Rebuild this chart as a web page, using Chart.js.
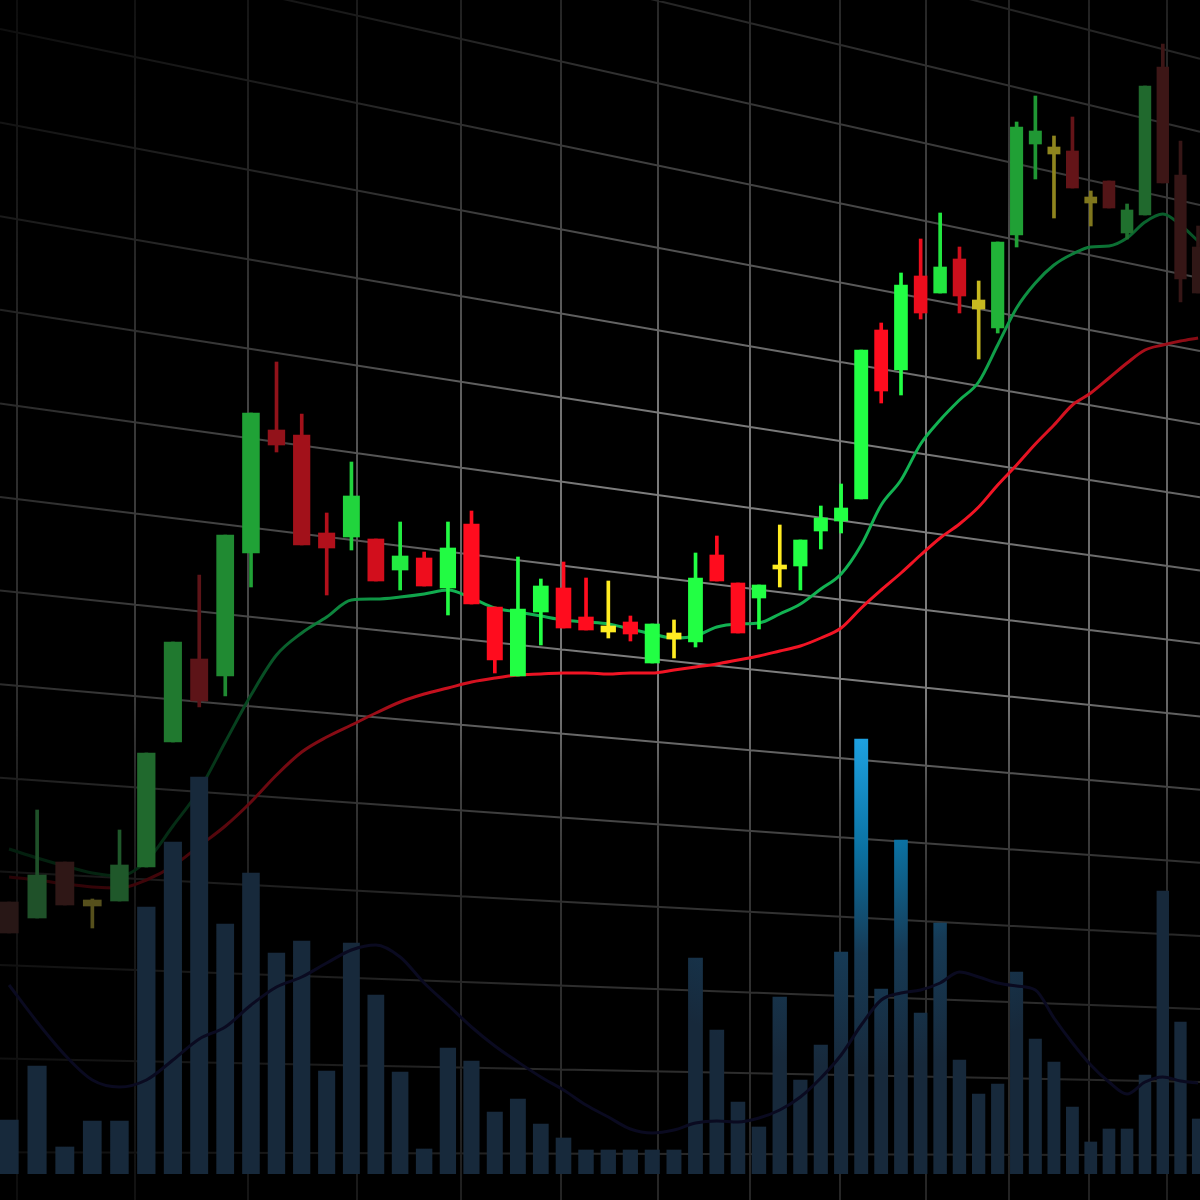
<!DOCTYPE html>
<html>
<head>
<meta charset="utf-8">
<style>
  html, body { margin: 0; padding: 0; background: #000; }
  #chart { display: block; }
</style>
</head>
<body>
<canvas id="chart" width="1200" height="1200"></canvas>
<script src="https://cdn.jsdelivr.net/npm/chart.js@4.4.0/dist/chart.umd.min.js"></script>
<script>
// session numbers, placed on a log axis so spacing shrinks to the right (perspective look)
const sessions = [88, 89, 90, 91, 92, 93, 94, 95, 96, 97, 98, 99, 100, 101, 102, 103, 104, 105, 106, 107,
  108, 109, 110, 111, 112, 113, 114, 115, 116, 117, 118, 119, 120, 121, 122, 123, 124, 125, 126, 127,
  128, 129, 130, 131, 132, 133, 134, 135, 136, 137, 138, 139, 140, 141, 142];

const opens = [27.2, 25.6, 31.2, 26.8, 27.3, 30.7, 43.2, 51.5, 49.8, 62.1, 74.4, 73.9, 64.1, 63.7, 63.5, 60.4, 61.6, 58.6, 65.0, 56.7,
  49.8, 56.2, 58.6, 55.7, 54.2, 55.2, 51.1, 53.5, 53.2, 61.9, 59.1, 57.6, 60.5, 60.8, 64.3, 65.3, 67.5, 84.4, 80.4, 89.8,
  88.1, 91.5, 86.5, 84.6, 93.9, 103.0, 102.0, 102.3, 97.1, 99.3, 94.1, 95.9, 110.7, 99.9, 92.7];
const highs = [27.2, 36.4, 31.2, 27.5, 34.4, 42.1, 53.2, 59.9, 63.9, 76.1, 81.2, 76.0, 66.1, 71.2, 63.5, 65.2, 62.2, 65.2, 66.3, 56.7,
  61.7, 59.5, 61.2, 59.6, 59.3, 55.8, 55.0, 55.4, 62.1, 63.8, 59.1, 58.9, 64.9, 63.4, 66.8, 69.0, 82.4, 85.1, 90.1, 93.5,
  96.1, 92.7, 89.3, 93.2, 105.2, 107.8, 103.8, 105.7, 98.3, 99.3, 97.0, 108.8, 113.0, 103.3, 94.8];
const lows = [24.1, 25.6, 26.9, 24.6, 27.3, 30.7, 43.2, 46.7, 47.8, 58.7, 72.2, 62.9, 57.9, 62.4, 59.3, 58.4, 58.8, 55.9, 57.0, 50.1,
  49.8, 52.9, 54.6, 54.4, 53.6, 53.3, 51.1, 51.6, 52.7, 59.3, 54.1, 54.5, 58.7, 58.4, 62.5, 64.1, 67.5, 77.1, 77.9, 85.5,
  88.1, 86.1, 81.5, 84.1, 92.7, 99.5, 95.6, 98.6, 94.8, 96.6, 93.5, 95.9, 99.1, 87.2, 88.1];
const closes = [24.1, 29.9, 26.9, 27.4, 30.9, 42.1, 53.2, 47.3, 63.9, 76.1, 72.9, 62.9, 62.6, 67.8, 59.3, 61.8, 58.8, 62.6, 57.0, 51.4,
  56.5, 58.8, 54.6, 54.4, 54.8, 54.0, 55.0, 54.1, 59.6, 59.3, 54.1, 58.9, 60.9, 63.4, 65.6, 66.6, 82.4, 78.3, 88.9, 86.1,
  90.7, 87.8, 87.4, 93.2, 104.7, 104.3, 102.7, 98.6, 97.7, 96.6, 96.4, 108.8, 99.1, 89.5, 88.1];

const fastMA = [32.5, 31.6, 30.8, 30.1, 29.8, 31.3, 34.8, 38.4, 43.2, 47.9, 51.9, 54.1, 55.7, 57.4, 57.5, 57.7, 58.0, 58.4, 57.6, 56.6,
  56.2, 55.8, 55.4, 55.2, 55.0, 54.5, 54.0, 53.6, 53.8, 54.7, 55.0, 55.1, 56.0, 57.0, 58.5, 60.0, 62.9, 66.9, 69.4, 73.0,
  75.4, 77.4, 79.2, 82.9, 86.6, 89.1, 90.9, 92.0, 92.7, 92.8, 93.6, 95.2, 96.0, 94.9, 93.3];
const slowMA = [29.7, 29.4, 29.0, 28.7, 28.6, 29.4, 30.8, 32.8, 34.8, 37.2, 39.9, 42.2, 43.7, 44.9, 46.1, 47.2, 48.0, 48.6, 49.2, 49.6,
  49.9, 50.0, 50.1, 50.1, 50.0, 50.1, 50.1, 50.4, 50.7, 51.0, 51.4, 51.8, 52.3, 52.8, 53.6, 54.6, 56.6, 58.4, 60.1, 61.9,
  63.6, 65.0, 66.7, 68.9, 70.9, 73.0, 74.9, 76.9, 78.1, 79.6, 81.1, 82.4, 82.9, 83.3, 83.6];

const volumes = [540, 1080, 270, 530, 530, 2670, 3320, 3970, 2500, 3010, 2210, 2330, 1030, 2310, 1790, 1020, 250, 1260, 1130, 620,
  750, 500, 360, 240, 240, 240, 240, 240, 2160, 1440, 720, 470, 1770, 940, 1290, 2220, 4350, 1850, 3340, 1610,
  2510, 1140, 800, 900, 2020, 1350, 1120, 670, 320, 450, 450, 990, 2830, 1520, 550];
const volumeMA = [1890, 1520, 1190, 940, 870, 940, 1140, 1350, 1470, 1690, 1870, 1970, 2110, 2240, 2290, 2170, 1910, 1690, 1470, 1280,
  1120, 970, 840, 690, 570, 450, 410, 440, 510, 530, 520, 560, 640, 770, 960, 1190, 1490, 1740, 1810, 1840,
  1910, 2020, 1970, 1910, 1880, 1840, 1560, 1310, 1090, 920, 800, 920, 970, 930, 910];

// colours: base colour and the tint that shows through when it fades
const UP = [34, 255, 68], UP_TINT = [30, 10, 30];
const DOWN = [255, 12, 30], DOWN_TINT = [0, 25, 20];
const DOJI = [255, 236, 34], DOJI_TINT = [10, 10, 25];
const FAST_LINE = [18, 178, 82];
const SLOW_LINE = [242, 20, 36];

// brightness along x (pixel, factor) - edges of the picture are darker
const candleFade = [[0, 0.26], [40, 0.29], [120, 0.32], [170, 0.45], [225, 0.52], [250, 0.62], [300, 0.72], [400, 0.92],
  [460, 1], [900, 1], [960, 0.85], [1020, 0.6], [1080, 0.5], [1150, 0.38], [1200, 0.3]];
const fastFade = [[0, 0.17], [100, 0.2], [200, 0.27], [267, 0.45], [320, 0.72], [400, 0.9], [450, 1], [950, 1],
  [1050, 0.75], [1150, 0.55], [1200, 0.45]];
const slowFade = [[0, 0.16], [100, 0.22], [190, 0.3], [250, 0.42], [300, 0.5], [370, 0.63], [430, 0.8], [500, 0.92],
  [560, 1], [1000, 1], [1100, 0.8], [1200, 0.55]];
const gridFadeX = [[0, 0.35], [300, 0.6], [600, 1], [900, 1], [1200, 0.8]];
const gridFadeY = [[0, 0.3], [200, 0.55], [400, 0.95], [500, 1], [700, 1], [800, 0.6], [900, 0.4], [1100, 0.35], [1200, 0.3]];

function interp(stops, x) {
  if (x <= stops[0][0]) return stops[0][1];
  for (let i = 1; i < stops.length; i++) {
    if (x <= stops[i][0]) {
      const [x0, y0] = stops[i - 1];
      const [x1, y1] = stops[i];
      return y0 + (y1 - y0) * (x - x0) / (x1 - x0);
    }
  }
  return stops[stops.length - 1][1];
}

function shade(rgb, f, tint) {
  const t = tint || [0, 0, 0];
  const ch = k => Math.round(rgb[k] * f + t[k] * (1 - f));
  return `rgb(${ch(0)},${ch(1)},${ch(2)})`;
}

function candleColor(c) {
  const i = c.dataIndex;
  if (i === undefined) return shade(UP, 1);
  const px = c.chart.scales.x.getPixelForValue(sessions[i]);
  const f = interp(candleFade, px);
  const diff = closes[i] - opens[i];
  if (Math.abs(diff) < 1) return shade(DOJI, f, DOJI_TINT);
  if (diff > 0) return shade(UP, f, UP_TINT);
  return shade(DOWN, Math.pow(f, 1.4), DOWN_TINT);
}

function lineGradient(c, rgb, stops) {
  const chart = c.chart;
  if (!chart.chartArea) return shade(rgb, 1);
  const g = chart.ctx.createLinearGradient(0, 0, chart.width, 0);
  stops.forEach(([x, f]) => g.addColorStop(x / chart.width, shade(rgb, f)));
  return g;
}

let volGradient = null;
function volumeFill(c) {
  const chart = c.chart;
  if (!chart.chartArea) return '#17293b';
  if (!volGradient) {
    // light glow round the top of the tallest volume bar
    const peak = volumes.indexOf(Math.max(...volumes));
    const cx = chart.scales.x.getPixelForValue(sessions[peak]);
    const cy = chart.scales.yv.getPixelForValue(volumes[peak]);
    const g = chart.ctx.createRadialGradient(cx, cy, 0, cx, cy, 330);
    g.addColorStop(0, '#1ea2e2');
    g.addColorStop(0.33, '#0b72a3');
    g.addColorStop(0.65, '#163a55');
    g.addColorStop(1, '#17293b');
    volGradient = g;
  }
  return volGradient;
}

function points(values) {
  return sessions.map((s, i) => ({ x: s, y: values[i] }));
}

// grid seen in perspective, drawn under the data
const gridColumns = [17, 135, 248, 357, 461, 561, 658, 750, 840, 926, 1009, 1089, 1167];
const perspectiveGrid = {
  id: 'perspectiveGrid',
  beforeDatasetsDraw(chart) {
    const { ctx, width, height } = chart;
    ctx.save();
    ctx.strokeStyle = '#7d7d7d';
    ctx.lineWidth = 2;
    ctx.beginPath();
    gridColumns.forEach(x => {
      ctx.moveTo(x, 0);
      ctx.lineTo(x, height);
    });
    for (let k = -4; k <= 12; k++) {
      ctx.moveTo(0, 29 + 93.6 * k);
      ctx.lineTo(width, 278 + 73.1 * k);
    }
    ctx.stroke();

    const gx = ctx.createLinearGradient(0, 0, width, 0);
    gridFadeX.forEach(([x, v]) => gx.addColorStop(x / width, `rgba(0,0,0,${1 - v})`));
    ctx.fillStyle = gx;
    ctx.fillRect(0, 0, width, height);
    const gy = ctx.createLinearGradient(0, 0, 0, height);
    gridFadeY.forEach(([y, v]) => gy.addColorStop(y / height, `rgba(0,0,0,${1 - v})`));
    ctx.fillStyle = gy;
    ctx.fillRect(0, 0, width, height);
    ctx.restore();
  }
};

new Chart(document.getElementById('chart'), {
  type: 'bar',
  data: {
    datasets: [
      {
        type: 'line',
        label: 'Volume MA',
        data: points(volumeMA),
        yAxisID: 'yv',
        borderColor: '#0a0a20',
        borderWidth: 3,
        pointRadius: 0,
        cubicInterpolationMode: 'monotone',
        order: 0
      },
      {
        label: 'Volume',
        data: points(volumes),
        yAxisID: 'yv',
        stack: 'session',
        backgroundColor: volumeFill,
        barThickness: 'flex',
        barPercentage: 0.66,
        categoryPercentage: 1,
        order: 1
      },
      {
        label: 'Body',
        data: sessions.map((s, i) => ({ x: s, y: [opens[i], closes[i]] })),
        yAxisID: 'y',
        stack: 'session',
        backgroundColor: candleColor,
        barThickness: 'flex',
        barPercentage: 0.66,
        categoryPercentage: 1,
        minBarLength: 4,
        order: 2
      },
      {
        label: 'Wick',
        data: sessions.map((s, i) => ({ x: s, y: [lows[i], highs[i]] })),
        yAxisID: 'y',
        backgroundColor: candleColor,
        barThickness: 3,
        grouped: false,
        order: 3
      },
      {
        type: 'line',
        label: 'MA fast',
        data: points(fastMA),
        yAxisID: 'y',
        borderColor: c => lineGradient(c, FAST_LINE, fastFade),
        borderWidth: 3,
        pointRadius: 0,
        cubicInterpolationMode: 'monotone',
        order: 4
      },
      {
        type: 'line',
        label: 'MA slow',
        data: points(slowMA),
        yAxisID: 'y',
        borderColor: c => lineGradient(c, SLOW_LINE, slowFade),
        borderWidth: 3,
        pointRadius: 0,
        cubicInterpolationMode: 'monotone',
        order: 5
      }
    ]
  },
  options: {
    responsive: false,
    devicePixelRatio: 1,
    animation: false,
    events: [],
    layout: { padding: { left: 0, right: 0, top: 0, bottom: 26 } },
    plugins: {
      legend: { display: false },
      tooltip: { enabled: false }
    },
    scales: {
      x: { type: 'logarithmic', min: 87.68, max: 142.11, offset: false, bounds: 'data', display: false },
      y: { type: 'linear', min: 0, max: 117.4, stacked: false, display: false },
      yv: { type: 'linear', min: 0, max: 11740, stacked: false, display: false }
    }
  },
  plugins: [perspectiveGrid]
});
</script>
</body>
</html>
